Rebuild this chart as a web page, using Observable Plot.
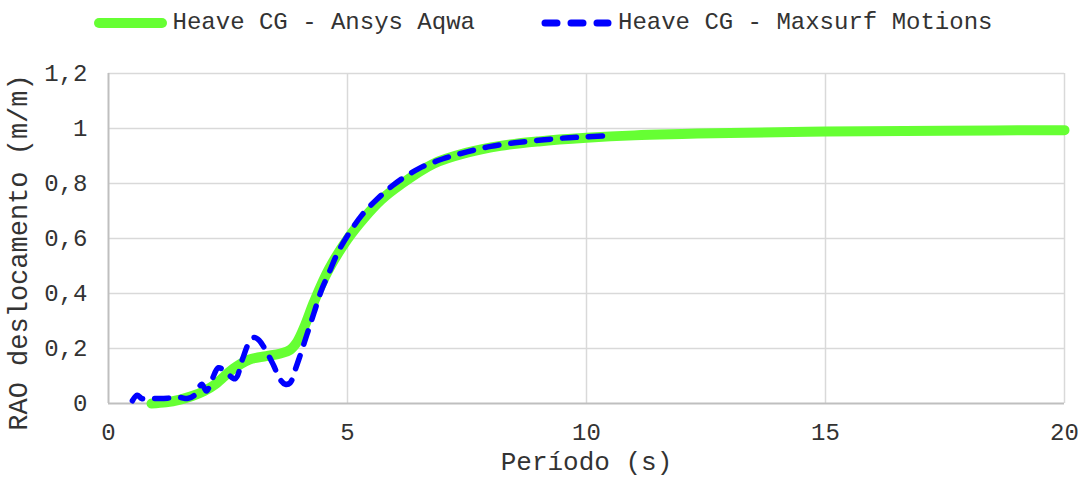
<!DOCTYPE html>
<html>
<head>
<meta charset="utf-8">
<script src="https://cdn.jsdelivr.net/npm/d3@7"></script>
<script src="https://cdn.jsdelivr.net/npm/@observablehq/plot@0.6"></script>
<style>
  body { margin: 0; background: #fff; font-family: "Courier New", "Liberation Mono", monospace; }
  #legend { height: 45px; display: flex; align-items: center; justify-content: center; font-size: 24px; line-height: 28px; color: #333; padding-left: 8px; box-sizing: border-box; width: 1078px; }
  .item { display: flex; align-items: center; white-space: nowrap; }
  .item svg { margin-right: 6px; display: block; }
  #chart svg { display: block; }
</style>
</head>
<body>
<div id="legend"></div>
<div id="chart"></div>
<script>
// Series names
const seriesNames = ["Heave CG - Ansys Aqwa", "Heave CG - Maxsurf Motions"];
const seriesColors = ["#66ff33", "#0000ff"];

// Heave CG - Ansys Aqwa
const periodAqwa = [0.9, 1.2, 1.5, 1.75, 2.0, 2.25, 2.6, 2.95, 3.3, 3.6, 3.8, 3.95, 4.1, 4.3, 4.6, 5.0, 5.35, 5.7, 6.1, 6.8, 7.5, 8.2, 9.0, 10.0, 11.0, 12.0, 13.0, 15.0, 17.5, 20.0];
const heaveAqwa  = [0.0, 0.004, 0.014, 0.027, 0.045, 0.072, 0.125, 0.16, 0.172, 0.182, 0.195, 0.225, 0.28, 0.37, 0.485, 0.598, 0.675, 0.74, 0.795, 0.872, 0.912, 0.937, 0.953, 0.966, 0.975, 0.98, 0.984, 0.989, 0.992, 0.994];

// Heave CG - Maxsurf Motions
const periodMaxsurf = [0.5, 0.6, 0.7, 0.9, 1.1, 1.3, 1.5, 1.65, 1.8, 1.95, 2.05, 2.15, 2.3, 2.45, 2.65, 2.8, 2.95, 3.05, 3.15, 3.3, 3.45, 3.6, 3.7, 3.8, 3.9, 4.0, 4.15, 4.3, 4.45, 4.6, 4.8, 5.0, 5.3, 5.6, 6.0, 6.5, 7.0, 7.5, 8.0, 8.5, 9.0, 9.5, 10.0, 10.55];
const heaveMaxsurf  = [0.01, 0.03, 0.018, 0.018, 0.018, 0.02, 0.022, 0.018, 0.03, 0.07, 0.045, 0.08, 0.13, 0.115, 0.09, 0.16, 0.225, 0.24, 0.23, 0.19, 0.14, 0.085, 0.07, 0.075, 0.12, 0.17, 0.25, 0.33, 0.41, 0.47, 0.55, 0.61, 0.685, 0.74, 0.8, 0.855, 0.89, 0.915, 0.935, 0.948, 0.957, 0.965, 0.97, 0.975];

// Axis ticks
const xTicks = [0, 5, 10, 15, 20];
const yTicks = [0, 0.2, 0.4, 0.6, 0.8, 1, 1.2];
const xLabel = "Período (s)";
const yLabel = "RAO deslocamento (m/m)";

const fmt = d => String(+(+d).toFixed(1)).replace(".", ",");
const aqwa = periodAqwa.map((x, i) => ({x, y: heaveAqwa[i]}));
const maxsurf = periodMaxsurf.map((x, i) => ({x, y: heaveMaxsurf[i]}));

// Legend
const legend = document.getElementById("legend");
legend.innerHTML =
  `<div class="item" style="margin-right:66px"><svg width="73" height="14"><line x1="5" x2="68" y1="7" y2="7" stroke="${seriesColors[0]}" stroke-width="10" stroke-linecap="round"/></svg><span>${seriesNames[0]}</span></div>` +
  `<div class="item"><svg width="71" height="14"><line x1="4" x2="67" y1="7" y2="7" stroke="${seriesColors[1]}" stroke-width="7" stroke-linecap="round" stroke-dasharray="12,14"/></svg><span>${seriesNames[1]}</span></div>`;

const font = '"Courier New", "Liberation Mono", monospace';
const chart = Plot.plot({
  width: 1078,
  height: 432,
  marginTop: 28,
  marginBottom: 74,
  marginLeft: 108,
  marginRight: 14,
  style: { fontFamily: font, fontSize: "24px", color: "#333", background: "white" },
  x: { domain: [0, 20] },
  y: { domain: [0, 1.2] },
  marks: [
    Plot.gridX(xTicks.slice(1), { stroke: "#d9d9d9", strokeOpacity: 1, strokeWidth: 1.5 }),
    Plot.gridY(yTicks.slice(1), { stroke: "#d9d9d9", strokeOpacity: 1, strokeWidth: 1.5 }),
    Plot.ruleX([0], { stroke: "#bfbfbf", strokeWidth: 2 }),
    Plot.ruleY([0], { stroke: "#bfbfbf", strokeWidth: 2 }),
    Plot.axisX(xTicks, { tickSize: 0, tickPadding: 19, tickFormat: fmt, label: null, fontSize: 24 }),
    Plot.axisY(yTicks, { tickSize: 0, tickPadding: 21, tickFormat: fmt, label: null, fontSize: 24 }),
    Plot.line(aqwa, { x: "x", y: "y", stroke: seriesColors[0], strokeWidth: 10, curve: "catmull-rom" }),
    Plot.line(maxsurf, { x: "x", y: "y", stroke: seriesColors[1], strokeWidth: 5.5, strokeDasharray: "14,12", strokeLinecap: "round", curve: "catmull-rom" }),
    Plot.text([xLabel], { text: d => d, frameAnchor: "bottom", dy: 58, lineAnchor: "middle", textAnchor: "middle", fontSize: 26 }),
    Plot.text([yLabel], { text: d => d, frameAnchor: "left", dx: -90, dy: 14, rotate: -90, lineAnchor: "middle", textAnchor: "middle", fontSize: 27 })
  ]
});
document.getElementById("chart").appendChild(chart);
</script>
</body>
</html>
